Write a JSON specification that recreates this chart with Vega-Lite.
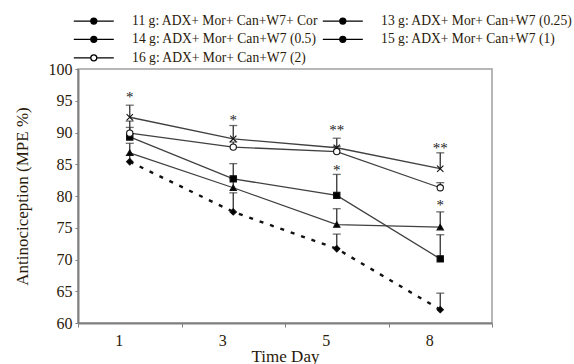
{
  "$schema": "https://vega.github.io/schema/vega-lite/v6.json",
  "autosize": "none",
  "width": 414,
  "height": 254,
  "padding": {"left": 78, "top": 69, "right": 82, "bottom": 41},
  "background": "white",
  "config": {
    "font": "Liberation Serif",
    "view": {"stroke": "#a0a0a0", "strokeWidth": 1.5},
    "axis": {"labelFont": "Liberation Serif", "titleFont": "Liberation Serif", "labelColor": "#2a1a0a", "titleColor": "#2a1a0a", "titleFontWeight": "normal", "domainColor": "#808080", "domainWidth": 2, "tickColor": "#808080", "grid": false},
    "legend": {"labelFont": "Liberation Serif", "labelColor": "#2a1a0a"}
  },
  "datasets": {
    "main": [
      {"group": "11 g: ADX+ Mor+ Can+W7+ Cor", "day": "1", "mpe": 85.4, "hi": 86.4},
      {"group": "11 g: ADX+ Mor+ Can+W7+ Cor", "day": "3", "mpe": 77.5, "hi": 80.5},
      {"group": "11 g: ADX+ Mor+ Can+W7+ Cor", "day": "5", "mpe": 71.7, "hi": 74.0},
      {"group": "11 g: ADX+ Mor+ Can+W7+ Cor", "day": "8", "mpe": 62.1, "hi": 64.7},
      {"group": "13 g: ADX+ Mor+ Can+W7 (0.25)", "day": "1", "mpe": 89.3, "hi": 90.8},
      {"group": "13 g: ADX+ Mor+ Can+W7 (0.25)", "day": "3", "mpe": 82.7, "hi": 85.1},
      {"group": "13 g: ADX+ Mor+ Can+W7 (0.25)", "day": "5", "mpe": 80.1, "hi": 83.4},
      {"group": "13 g: ADX+ Mor+ Can+W7 (0.25)", "day": "8", "mpe": 70.1, "hi": 73.9},
      {"group": "14 g: ADX+ Mor+ Can+W7 (0.5)", "day": "1", "mpe": 86.8, "hi": 88.3},
      {"group": "14 g: ADX+ Mor+ Can+W7 (0.5)", "day": "3", "mpe": 81.3, "hi": 82.8},
      {"group": "14 g: ADX+ Mor+ Can+W7 (0.5)", "day": "5", "mpe": 75.5, "hi": 78.0},
      {"group": "14 g: ADX+ Mor+ Can+W7 (0.5)", "day": "8", "mpe": 75.1, "hi": 77.5},
      {"group": "15 g: ADX+ Mor+ Can+W7 (1)", "day": "1", "mpe": 92.4, "hi": 94.3},
      {"group": "15 g: ADX+ Mor+ Can+W7 (1)", "day": "3", "mpe": 89.0, "hi": 91.1},
      {"group": "15 g: ADX+ Mor+ Can+W7 (1)", "day": "5", "mpe": 87.6, "hi": 89.1},
      {"group": "15 g: ADX+ Mor+ Can+W7 (1)", "day": "8", "mpe": 84.3, "hi": 86.8},
      {"group": "16 g: ADX+ Mor+ Can+W7 (2)", "day": "1", "mpe": 89.9, "hi": 91.8},
      {"group": "16 g: ADX+ Mor+ Can+W7 (2)", "day": "3", "mpe": 87.7, "hi": 88.5},
      {"group": "16 g: ADX+ Mor+ Can+W7 (2)", "day": "5", "mpe": 87.0, "hi": 87.8},
      {"group": "16 g: ADX+ Mor+ Can+W7 (2)", "day": "8", "mpe": 81.3, "hi": 82.1}
    ],
    "stars": [
      {"day": "1", "y": 96.0, "label": "*"},
      {"day": "3", "y": 92.5, "label": "*"},
      {"day": "5", "y": 90.8, "label": "**"},
      {"day": "5", "y": 84.6, "label": "*"},
      {"day": "8", "y": 88.1, "label": "**"},
      {"day": "8", "y": 79.1, "label": "*"}
    ]
  },
  "data": {"name": "main"},
  "encoding": {
    "x": {"field": "day", "type": "ordinal", "sort": ["1", "3", "5", "8"],
      "scale": {"type": "band", "paddingInner": 0, "paddingOuter": 0},
      "axis": {"title": "Time Day", "labelAngle": 0, "tickBand": "extent", "labelOffset": -11, "labelFontSize": 16, "titleFontSize": 17, "tickSize": 4, "labelPadding": 5, "titlePadding": 0}},
    "y": {"field": "mpe", "type": "quantitative",
      "scale": {"domain": [60, 100], "nice": false, "zero": false},
      "axis": {"title": "Antinociception (MPE %)", "values": [60, 65, 70, 75, 80, 85, 90, 95, 100], "labelFontSize": 16, "titleFontSize": 17, "tickSize": 3, "labelPadding": 3, "titlePadding": 17}}
  },
  "layer": [
    {
      "mark": {"type": "rule", "color": "#333333", "strokeWidth": 1.3},
      "encoding": {"y2": {"field": "hi"}, "detail": {"field": "group"}}
    },
    {
      "mark": {"type": "tick", "color": "#333333", "thickness": 1.3, "size": 8},
      "encoding": {"y": {"field": "hi", "type": "quantitative"}, "detail": {"field": "group"}}
    },
    {
      "transform": [{"filter": "datum.group != '11 g: ADX+ Mor+ Can+W7+ Cor'"}],
      "mark": {"type": "line", "color": "#404040", "strokeWidth": 1.3},
      "encoding": {"detail": {"field": "group"}}
    },
    {
      "transform": [{"filter": "datum.group == '11 g: ADX+ Mor+ Can+W7+ Cor'"}],
      "mark": {"type": "line", "color": "#111111", "strokeWidth": 2.4, "strokeDash": [4, 7], "strokeCap": "butt"},
      "encoding": {}
    },
    {
      "mark": {"type": "point", "filled": true, "stroke": "#111111", "strokeWidth": 1.1, "opacity": 1, "size": 40},
      "encoding": {
        "shape": {"field": "group", "type": "nominal",
          "scale": {"domain": ["16 g: ADX+ Mor+ Can+W7 (2)", "15 g: ADX+ Mor+ Can+W7 (1)", "14 g: ADX+ Mor+ Can+W7 (0.5)", "13 g: ADX+ Mor+ Can+W7 (0.25)", "11 g: ADX+ Mor+ Can+W7+ Cor"],
            "range": ["circle", "M-1,-1L1,1M-1,1L1,-1", "triangle-up", "square", "diamond"]},
          "legend": null},
        "fill": {"field": "group", "type": "nominal",
          "scale": {"domain": ["11 g: ADX+ Mor+ Can+W7+ Cor", "13 g: ADX+ Mor+ Can+W7 (0.25)", "14 g: ADX+ Mor+ Can+W7 (0.5)", "15 g: ADX+ Mor+ Can+W7 (1)", "16 g: ADX+ Mor+ Can+W7 (2)"],
            "range": ["#000000", "#000000", "#000000", "#000000", "#ffffff"]},
          "legend": {"title": null, "orient": "none", "legendX": -6, "legendY": -55, "columns": 2, "direction": "horizontal", "columnPadding": 1, "rowPadding": 3.5,
            "symbolSize": 100, "symbolOffset": 15, "labelFontSize": 13.6, "labelOffset": 31.5, "labelLimit": 400,
            "symbolType": "M-4,0L-0.6,0M0.6,0L4,0M-0.6,0A0.6,0.6 0 1,1 0.6,0A0.6,0.6 0 1,1 -0.6,0Z",
            "symbolStrokeColor": "#000000", "symbolStrokeWidth": 1.3,
            "encode": {"symbols": {
              "update": {
                "shape": {"signal": "indexOf(datum.value,'11')==0 ? 'M-4,0L-3.4,0M-2.4,0L-1.4,0M-0.7,0L0.7,0M1.4,0L2.4,0M3.4,0L4,0M0,-0.8L0.7,0L0,0.8L-0.7,0Z' : indexOf(datum.value,'13')==0 ? 'M-4,0L4,0M-0.65,-0.65L0.65,-0.65L0.65,0.65L-0.65,0.65Z' : indexOf(datum.value,'14')==0 ? 'M-4,0L4,0M0,-0.8L0.75,0.6L-0.75,0.6Z' : indexOf(datum.value,'15')==0 ? 'M-4,0L4,0M-0.8,-0.8L0.8,0.8M-0.8,0.8L0.8,-0.8' : 'M-4,0L-0.6,0M0.6,0L4,0M-0.6,0A0.6,0.6 0 1,1 0.6,0A0.6,0.6 0 1,1 -0.6,0Z'"}
              },
              "shape": {"signal": "indexOf(datum.value,'11')==0 ? 'M-4,0L-3.4,0M-2.4,0L-1.4,0M-0.7,0L0.7,0M1.4,0L2.4,0M3.4,0L4,0M0,-0.8L0.7,0L0,0.8L-0.7,0Z' : indexOf(datum.value,'13')==0 ? 'M-4,0L4,0M-0.65,-0.65L0.65,-0.65L0.65,0.65L-0.65,0.65Z' : indexOf(datum.value,'14')==0 ? 'M-4,0L4,0M0,-0.8L0.75,0.6L-0.75,0.6Z' : indexOf(datum.value,'15')==0 ? 'M-4,0L4,0M-0.8,-0.8L0.8,0.8M-0.8,0.8L0.8,-0.8' : 'M-4,0L-0.6,0M0.6,0L4,0M-0.6,0A0.6,0.6 0 1,1 0.6,0A0.6,0.6 0 1,1 -0.6,0Z'"},
              "size": {"value": 100},
              "stroke": {"value": "#000000"}, "strokeWidth": {"value": 1.3}, "opacity": {"value": 1}}}}}
      }
    },
    {
      "data": {"name": "stars"},
      "mark": {"type": "text", "fontSize": 15, "color": "#222222", "baseline": "alphabetic", "dy": 8},
      "encoding": {"y": {"field": "y", "type": "quantitative"}, "text": {"field": "label"}}
    }
  ]
}
